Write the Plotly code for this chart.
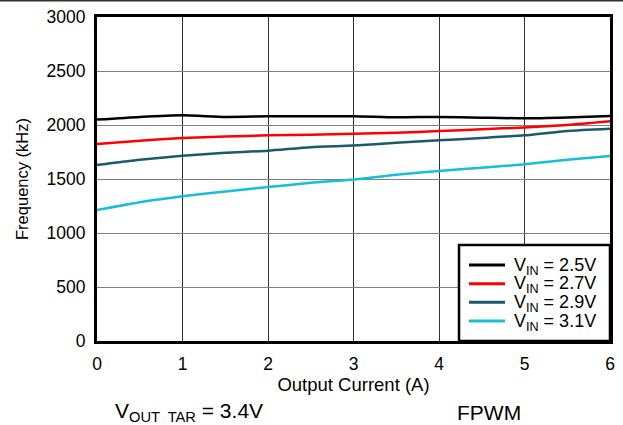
import plotly.graph_objects as go

# Output current (A)
current = [0, 0.5, 1, 1.5, 2, 2.5, 3, 3.5, 4, 4.5, 5, 5.5, 6]

# Switching frequency (kHz) for each input voltage
f_vin_25 = [2050, 2075, 2090, 2075, 2080, 2080, 2082, 2072, 2075, 2068, 2062, 2070, 2083]
f_vin_27 = [1825, 1855, 1880, 1893, 1904, 1910, 1918, 1928, 1944, 1960, 1978, 2000, 2034]
f_vin_29 = [1630, 1678, 1716, 1742, 1762, 1795, 1810, 1835, 1858, 1880, 1904, 1945, 1966]
f_vin_31 = [1213, 1285, 1340, 1385, 1425, 1465, 1495, 1540, 1574, 1605, 1636, 1678, 1713]

series_names = ["V<sub>IN</sub> = 2.5V", "V<sub>IN</sub> = 2.7V",
                "V<sub>IN</sub> = 2.9V", "V<sub>IN</sub> = 3.1V"]
series_values = [f_vin_25, f_vin_27, f_vin_29, f_vin_31]
series_colors = ["#000000", "#ff0000", "#1b5a6b", "#16bfd3"]

x_ticks = [0, 1, 2, 3, 4, 5, 6]
y_ticks = [0, 500, 1000, 1500, 2000, 2500, 3000]

FONT = "Liberation Sans, Arial, sans-serif"

# Figure geometry (pixels)
W, H = 623, 425
ML, MR, MT, MB = 97, 13, 17, 84
PW, PH = W - ML - MR, H - MT - MB


def px_x(px):
    return (px - ML) / PW


def px_y(py):
    return (H - MB - py) / PH


fig = go.Figure()
for name, vals, col in zip(series_names, series_values, series_colors):
    fig.add_trace(go.Scatter(
        x=current, y=vals, name=name, mode="lines",
        line=dict(color=col, width=2.5, shape="spline", smoothing=0.6),
        showlegend=False,
    ))

# Boxed legend in the lower-right corner of the plot
shapes = [
    dict(type="rect", xref="paper", yref="paper", layer="above",
         x0=px_x(459), x1=1, y0=0, y1=px_y(245),
         fillcolor="white", line=dict(color="#000000", width=2.5)),
]
annotations = []
row_y = [265, 283.7, 302.3, 321]
for name, col, ry in zip(series_names, series_colors, row_y):
    shapes.append(dict(type="line", xref="paper", yref="paper", layer="above",
                       x0=px_x(469), x1=px_x(505), y0=px_y(ry), y1=px_y(ry),
                       line=dict(color=col, width=3)))
    annotations.append(dict(text=name, xref="paper", yref="paper",
                            x=px_x(512), y=px_y(ry + 1), xanchor="left", yanchor="middle",
                            height=18.5, valign="middle",
                            showarrow=False, font=dict(size=18, family=FONT)))

# Thin rule along the top edge of the figure
shapes.append(dict(type="line", xref="paper", yref="paper",
                   x0=-0.3, x1=1.1, y0=px_y(0.5), y1=px_y(0.5),
                   line=dict(color="#333333", width=2)))

annotations += [
    dict(text="V<sub>OUT  TAR</sub> = 3.4V", xref="paper", yref="paper",
         x=px_x(188.5), y=px_y(412), xanchor="center", yanchor="middle",
         showarrow=False, font=dict(size=21, family=FONT)),
    dict(text="FPWM", xref="paper", yref="paper",
         x=px_x(489), y=px_y(412), xanchor="center", yanchor="middle",
         showarrow=False, font=dict(size=21, family=FONT)),
]

fig.update_layout(
    width=W, height=H,
    margin=dict(l=ML, r=MR, t=MT, b=MB),
    paper_bgcolor="white", plot_bgcolor="white",
    font=dict(family=FONT, color="#000000", size=17),
    showlegend=False,
    xaxis=dict(
        range=[0, 6], tickvals=x_ticks, ticks="", automargin=False,
        showgrid=True, gridcolor="#333333", gridwidth=1.2,
        showline=True, linecolor="#000000", linewidth=3, mirror=True,
        zeroline=False, ticklabelstandoff=5,
        title=dict(text="Output Current (A)", standoff=2, font=dict(size=18.5)),
        tickfont=dict(size=17.5),
    ),
    yaxis=dict(
        range=[0, 3000], tickvals=y_ticks, ticks="", automargin=False,
        showgrid=True, gridcolor="#808080", gridwidth=1.2,
        showline=True, linecolor="#000000", linewidth=3, mirror=True,
        zeroline=False, ticklabelstandoff=5,
        title=dict(text="Frequency (kHz)", standoff=14, font=dict(size=16.5)),
        tickfont=dict(size=17.5),
    ),
    shapes=shapes,
    annotations=annotations,
)

fig.write_html("out.html")
